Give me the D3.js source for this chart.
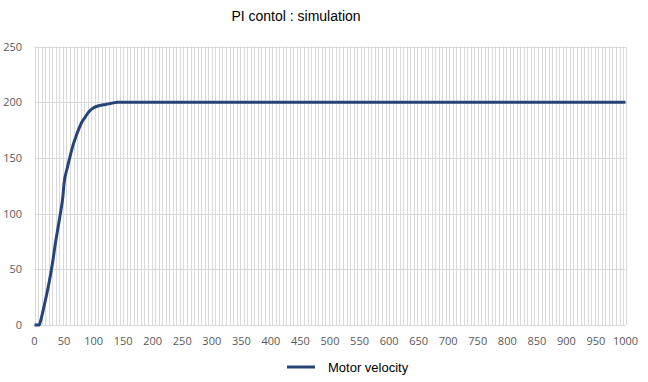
<!DOCTYPE html>
<html>
<head>
<meta charset="utf-8">
<script src="https://cdn.jsdelivr.net/npm/d3@7"></script>
<style>
  body { margin: 0; background: #fff; }
</style>
</head>
<body>
<div id="chart"></div>
<script>
// data
const xs = [0, 5, 8, 10, 15, 20, 25, 30, 35, 40, 45, 48, 50, 55, 60, 65, 70, 75, 80, 85, 90, 95, 100, 110, 120, 130, 140, 150, 1000];
const velocity = [0, 0, 0, 3, 14, 26, 39, 54, 72, 88, 104, 115, 127, 140, 151, 161, 169, 176, 182, 186, 190, 193, 195, 197, 198, 199, 200, 200, 200];
const xTicks = d3.range(0, 1001, 50);
const yTicks = [0, 50, 100, 150, 200, 250];
const seriesName = 'Motor velocity';
const title = 'PI contol : simulation';

const width = 648, height = 382;
const margin = { left: 34.5, top: 46.5, right: 22.5, bottom: 57 };

const svg = d3.select('#chart').append('svg')
    .attr('width', width)
    .attr('height', height);

const x = d3.scaleLinear()
    .domain([0, 1000])
    .range([margin.left, width - margin.right]);

const y = d3.scaleLinear()
    .domain([0, 250])
    .range([height - margin.bottom, margin.top]);

// vertical grid (fine)
svg.append('g')
  .selectAll('line')
  .data(d3.range(0, 1001, 6).concat([1000]))
  .join('line')
    .attr('x1', d => Math.round(x(d)) + 0.5)
    .attr('x2', d => Math.round(x(d)) + 0.5)
    .attr('y1', y(250))
    .attr('y2', y(0))
    .attr('stroke', '#d9d9d9')
    .attr('stroke-width', 1);

// horizontal grid
svg.append('g')
  .selectAll('line')
  .data(yTicks)
  .join('line')
    .attr('x1', x(0))
    .attr('x2', x(1000))
    .attr('y1', d => Math.round(y(d)) + 0.5)
    .attr('y2', d => Math.round(y(d)) + 0.5)
    .attr('stroke', '#d9d9d9')
    .attr('stroke-width', 1);

// y labels
svg.append('g')
  .selectAll('text')
  .data(yTicks)
  .join('text')
    .attr('x', 22)
    .attr('y', d => y(d) + 4)
    .attr('text-anchor', 'end')
    .attr('font-family', 'Open Sans, sans-serif')
    .attr('font-size', 11)
    .attr('fill', '#595959')
    .text(d => d);

// x labels
svg.append('g')
  .selectAll('text')
  .data(xTicks)
  .join('text')
    .attr('x', d => x(d))
    .attr('y', y(0) + 20)
    .attr('text-anchor', 'middle')
    .attr('font-family', 'Open Sans, sans-serif')
    .attr('font-size', 11)
    .attr('fill', '#595959')
    .text(d => d);

// series
const line = d3.line()
    .x((d, i) => x(xs[i]))
    .y(d => y(d))
    .curve(d3.curveMonotoneX);

svg.append('path')
    .datum(velocity)
    .attr('d', line)
    .attr('fill', 'none')
    .attr('stroke', '#264478')
    .attr('stroke-width', 3)
    .attr('stroke-linejoin', 'round');

// title
svg.append('text')
    .attr('x', 296)
    .attr('y', 21)
    .attr('text-anchor', 'middle')
    .attr('font-family', 'Liberation Sans, Arial, sans-serif')
    .attr('font-size', 14)
    .attr('fill', '#000')
    .text(title);

// legend
svg.append('line')
    .attr('x1', 287).attr('x2', 315)
    .attr('y1', 367).attr('y2', 367)
    .attr('stroke', '#264478')
    .attr('stroke-width', 3);

svg.append('text')
    .attr('x', 328)
    .attr('y', 371.5)
    .attr('font-family', 'Liberation Sans, Arial, sans-serif')
    .attr('font-size', 13)
    .attr('fill', '#000')
    .text(seriesName);
</script>
</body>
</html>
